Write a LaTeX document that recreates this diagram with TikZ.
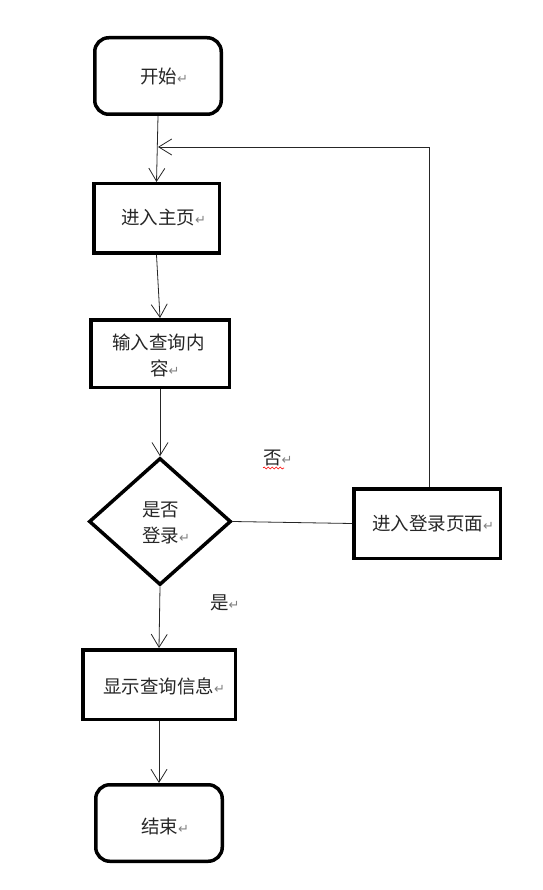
\documentclass[tikz,border=0pt]{standalone}
\usepackage{fontspec}
\newfontfamily\cjk{Noto Sans CJK SC}
\newfontfamily\symf{DejaVu Sans}
\usetikzlibrary{shapes.geometric,arrows.meta,decorations.pathmorphing}
\newcommand{\pmark}{{\symf\fontsize{13}{14}\selectfont\color{gray}↵}}
\begin{document}
\begin{tikzpicture}[x=1pt,y=-1pt,
  boxst/.style={draw,line width=3.5pt,inner sep=0pt},
  termst/.style={boxst,rounded corners=14pt,minimum width=126.5pt,minimum height=76.5pt},
  procst/.style={boxst,minimum height=69.5pt},
  decst/.style={draw,line width=3.5pt,diamond,inner sep=0pt,minimum width=142pt,minimum height=127pt},
  txt/.style={anchor=west,inner sep=0pt,text=black!85,font=\cjk\fontsize{18.5}{22}\selectfont},
  conn/.style={line width=0.8pt,draw=black!85},
  arr/.style={conn,-{Straight Barb[length=13pt,width=16pt,line width=0.8pt]}}
]
\useasboundingbox (0,0) rectangle (542,890);
% nodes
\node[termst] (start) at (158,76) {};
\node[procst,minimum width=125.5pt] (main) at (156.5,218.5) {};
\node[procst,minimum width=138.5pt,minimum height=67.5pt] (query) at (160,353.5) {};
\node[decst] (dec) at (160,521.5) {};
\node[procst,minimum width=146.5pt] (login) at (427,523.5) {};
\node[procst,minimum width=152.5pt] (show) at (159,684.5) {};
\node[termst] (stop) at (159,823) {};
% texts
\node[txt] (t1) at (140,77) {开始\pmark};
\node[txt] (t2) at (121,218) {进入主页\pmark};
\node[txt] (t3) at (112,342) {输入查询内};
\node[txt] (t3b) at (150,368) {容\pmark};
\node[txt] (t4) at (142,510) {是否};
\node[txt] (t4b) at (142,536) {登录\pmark};
\node[txt] (t5) at (372,524) {进入登录页面\pmark};
\node[txt] (t6) at (103,686) {显示查询信息\pmark};
\node[txt] (t7) at (141,826) {结束\pmark};
\node[txt] (no) at (263,458) {否\pmark};
\node[txt] (yes) at (210,603) {是\pmark};
\draw[red,line width=0.6pt,decorate,decoration={snake,amplitude=1pt,segment length=4pt}] (263,468) -- (284,468);
% connectors
\coordinate (join) at (158,147);
\draw[arr] (start.south) -- (main.north);
\draw[arr] (main.south) -- (query.north);
\draw[arr] (query.south) -- (dec.north);
\draw[conn] (dec.east) -- (login.west);
\draw[arr] ([xshift=2pt]login.north) |- (join);
\draw[arr] (dec.south) -- (show.north);
\draw[arr] (show.south) -- (stop.north);
\end{tikzpicture}
\end{document}
